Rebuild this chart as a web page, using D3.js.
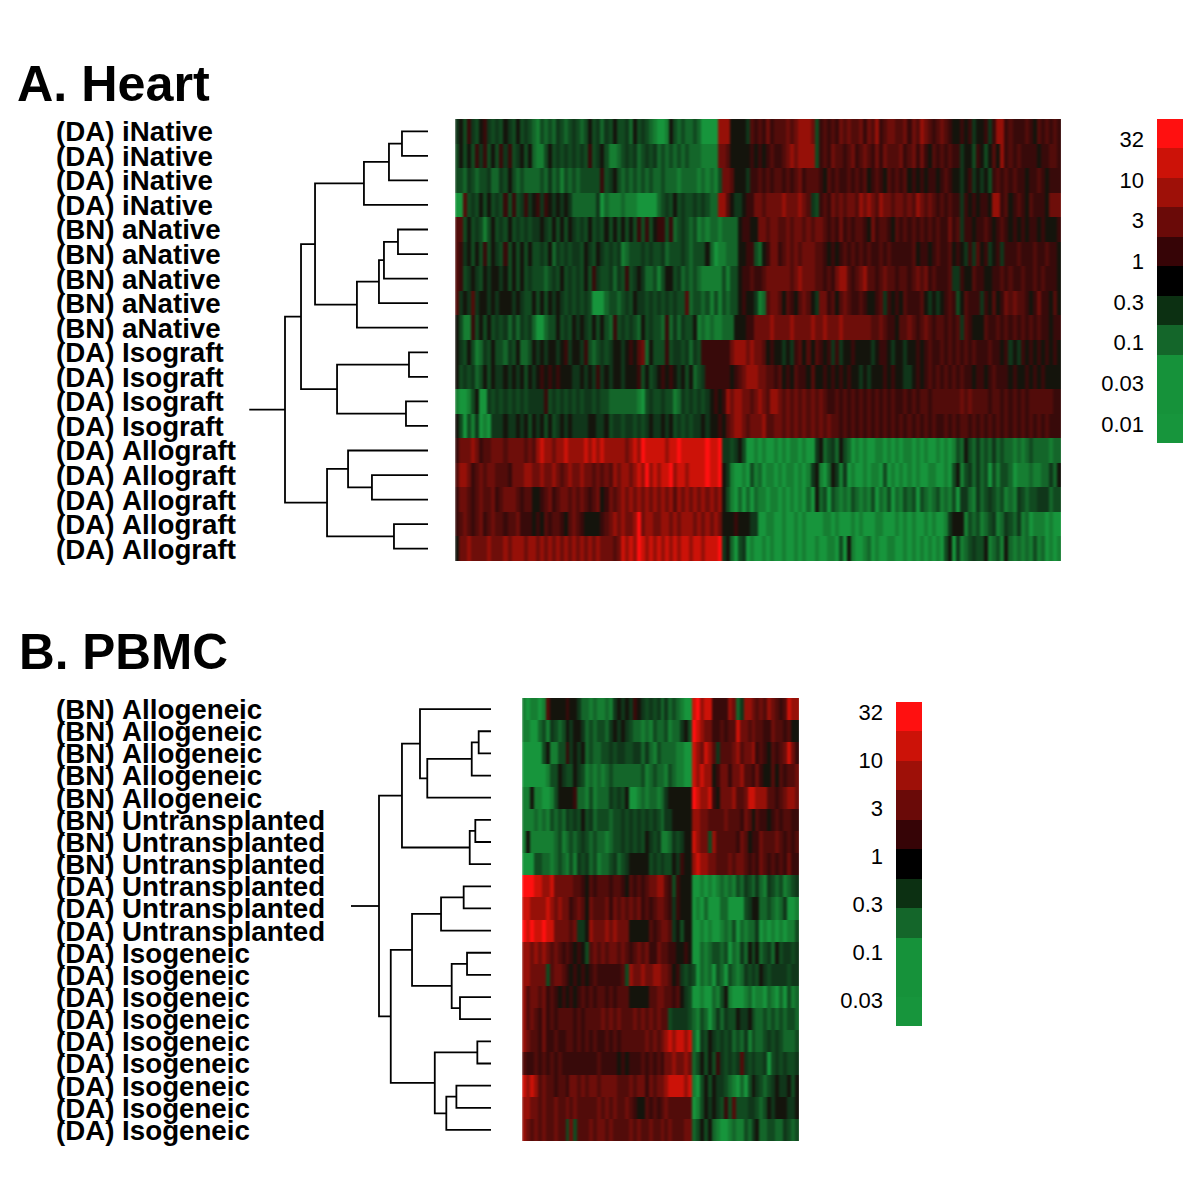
<!DOCTYPE html>
<html>
<head>
<meta charset="utf-8">
<script src="https://cdn.jsdelivr.net/npm/d3@7"></script>
<style>
html, body { margin: 0; background: #fff; }
text { font-family: "Liberation Sans", Arial, sans-serif; fill: #000; font-kerning: none; }
</style>
</head>
<body>
<div id="vis"></div>
<script>
// expression level codes, green (low) to red (high)
var levelCodes = ["0","1","2","3","4","5","6","7","8","9","a","b"];
var levelColors = ["#17953c","#167e32","#14662a","#114a20","#10361a","#14140c","#380a0a","#520c0a","#6e0e0a","#961008","#cc1208","#ff1010"];

var legendColors = ["#ff1010","#cc1208","#9e1008","#6a0a08","#360406","#000000","#0c3012","#14662a","#16923a","#16923a","#17953c"];
var heartTicks = ["32","10","3","1","0.3","0.1","0.03","0.01"];
var pbmcTicks = ["32","10","3","1","0.3","0.1","0.03"];

var heartLabels = ["(DA) iNative","(DA) iNative","(DA) iNative","(DA) iNative","(BN) aNative","(BN) aNative","(BN) aNative","(BN) aNative","(BN) aNative","(DA) Isograft","(DA) Isograft","(DA) Isograft","(DA) Isograft","(DA) Allograft","(DA) Allograft","(DA) Allograft","(DA) Allograft","(DA) Allograft"];
var pbmcLabels = ["(BN) Allogeneic","(BN) Allogeneic","(BN) Allogeneic","(BN) Allogeneic","(BN) Allogeneic","(BN) Untransplanted","(BN) Untransplanted","(BN) Untransplanted","(DA) Untransplanted","(DA) Untransplanted","(DA) Untransplanted","(DA) Isogeneic","(DA) Isogeneic","(DA) Isogeneic","(DA) Isogeneic","(DA) Isogeneic","(DA) Isogeneic","(DA) Isogeneic","(DA) Isogeneic","(DA) Isogeneic"];

// hclust style merges: negative = leaf row (1 based), positive = earlier merge
var heartMerge = [[-1,-2],[1,-3],[2,-4],[-5,-6],[4,-7],[5,-8],[6,-9],[3,7],[-10,-11],[-12,-13],[9,10],[8,11],[-15,-16],[-14,13],[-17,-18],[14,15],[12,16]];
var heartHeight = [18.2,27.3,44.8,21.0,30.8,34.3,49.7,79.0,13.3,15.4,63.6,88.8,39.2,55.9,23.8,70.6,100];
var pbmcMerge = [[-2,-3],[1,-4],[2,-5],[-1,3],[-6,-7],[5,-8],[4,6],[-9,-10],[8,-11],[-12,-13],[-14,-15],[10,11],[9,12],[-16,-17],[-18,-19],[15,-20],[14,16],[13,17],[7,18]];
var pbmcHeight = [11.0,17.2,56.9,63.4,14.0,19.0,79.5,24.4,44.6,21.4,27.7,35.1,70.5,12.2,30.9,39.9,50.2,89.5,100];

var heartRows = [
"4536435643 4354353432 1323243234 3235342435 3342534321 0015323223 2000099955 5547676867 7787899983 6767687877 8687967887 7868798767 8765565645 5646996766 6765767676",
"3535364635 3646345352 1135343434 3436345311 2343423434 2323232322 2111188755 5556565676 6789899993 6768776786 7876868777 8678686576 7676645536 5357596767 6666566776",
"3324323342 2435323222 2324231323 2333336345 3232323232 2322212222 1212138875 5546676767 7676786777 6576766767 6756765767 6756565665 6765545645 4536767676 6566765666",
"0073435353 4363634645 6465454542 2222240211 1211100000 2343534334 3432299754 4566887888 8988898743 6768787887 9898798878 8787987876 7676646565 6659967567 6576665888",
"7735343135 3435343434 4543535354 3435343535 3535363635 6636234323 1212212222 5665588788 7787887878 8767686767 7658677657 6767676767 6686746656 6765676565 6566565556",
"7645353635 4363535353 3435243434 4354354343 4123334343 3423334323 3352011222 5566325688 6787878887 7656567676 7676676766 6667566567 6675654647 5645646667 6667667665",
"7634543545 5453535343 3323435343 4353643342 4363454223 1355342323 2111113133 5667667888 8887898887 7676899767 8977678776 7767878676 6674465576 6556676766 7667676665",
"7454745545 4555454335 3535454343 4343000233 2343544343 4343433723 3231313233 5655412788 7576578754 8867578766 7655674656 5766675454 5676357666 4657568787 7656866575",
"5311635353 4342424342 0023353435 4543535326 3434325343 3262424335 1212112225 5566888898 8889888898 8988898888 8887787665 7787678767 7676747655 5766767676 7676766566",
"5435312435 3324352235 4545545645 5463234345 5456578253 3363443424 3666666689 9989887565 5454675757 6564645565 5554566545 5455656766 7676767676 6676656454 6565656565",
"5343423535 4454545354 5656565554 4545464545 5455563534 5656545352 3466666656 7899988776 7565766575 5656565655 4545556565 5445656767 6767676656 6567666565 5656565555",
"1001350043 4343434344 4463434343 4344343322 2222210343 3433124343 4345656989 9887898799 8787878787 8766767676 7676767676 6767677677 7777787877 7767767676 7677777766",
"5303140104 4454454535 4535345454 4445544534 4344343454 4545343434 4545565789 9878889778 8787878787 8787767676 7676767676 7676767676 6767677676 7676767676 7676767666",
"6888986778 8878888787 9a99899a99 99a9a9a999 9989a9baaa aa9aabaaaa aabaab4434 5300101001 0101101004 5234253201 0100110101 0110101001 0101325324 2324232212 1232222122",
"7998678788 7776888998 8988987898 8988787879 89989a9b9a 9aab9aa9aa aabaab5410 0103120110 1011010145 1025414010 0101103010 1010100110 0103513424 2303133201 1121122425",
"6887678778 6788876775 5678678878 7876785687 8989898989 8989798989 8989895310 2020211011 0101010205 2303212132 1213021302 1323032123 1213044214 2343231214 3233444233",
"6787678678 7767786665 6576776578 7655556789 89889b8998 8998989998 9898985556 5554400110 0100101000 0110100010 1000110001 0101001010 0145551323 1234124324 1201110100",
"5889888898 8898999899 8989898989 8989898887 8a9a9ba9a9 a9a9a9aa9a a9aaab4520 3401001010 0100101001 0011030510 0120100110 0101010101 0350412343 3512315212 1213120101"
];

var pbmcRows = [
"1011017555 5655422121 1214545465 4343424232 100ab9aa66 6698249987 8798767a99",
"1100231432 3545542323 3245454322 1213223122 453ba98866 7677a88787 7668776755",
"0000035113 3645452322 3343443344 2421322221 100a98a974 7778978896 7657678a86",
"0000001335 4335431212 1232222222 3123221321 100a9a9956 8868897768 6557576778",
"1151100135 5556221312 2243435001 2122124555 555ba99a65 8889778aa9 9977678998",
"1112121323 2434353423 3323343434 3434324455 5559988777 7877768757 6656767766",
"1511111123 1232343232 2123343434 3543411243 455a988397 7777687566 8777876767",
"0003322123 2131434231 2234234555 5534343354 6559a99887 7787887676 8767676866",
"bbbaa99a88 8887765767 7767765767 6788997636 5550010101 2121324324 2143231234",
"aa9999a989 8867875877 7868787878 6767887646 5550102000 2200003455 2232124001",
"babaabaa88 8878445988 8989888555 5576788745 3550010100 1213021224 0101010113",
"9989898787 6765653787 8788787678 7866877665 5650021233 2302142535 2342534434",
"9988883788 7656565676 6666673988 9889988756 4343021203 2032124343 5434444344",
"9788786765 6565676767 7676777555 5577887767 5430010021 3510001201 1021020312",
"9787686767 7776767777 8787877787 8787877344 4432132024 2433544532 2323232332",
"9877686676 6776767676 6767677777 7878789a9a a9a2043543 4342324132 2343432223",
"7667676767 6666666667 6666565666 7676768898 8982353536 4343474343 3403434334",
"a9a9787767 7688787887 8888777878 8687889aaa a9a1035354 4321020354 3234544535",
"9988787787 7878777778 7878778765 5767678777 7770135454 3637333443 2354555445",
"9878787787 7383777878 8787777878 7787787877 7882353521 0012113245 2233224323"
];

var svg = d3.select("#vis").append("svg")
    .attr("width", 1200)
    .attr("height", 1200)

var defs = svg.append("defs");

// the stripes in the reference run into each other a little
defs.append("filter")
    .attr("id", "soft")
    .attr("x", "0").attr("y", "0").attr("width", "1").attr("height", "1")
    .attr("color-interpolation-filters", "sRGB")
    .append("feGaussianBlur")
    .attr("stdDeviation", "0.9 0")
    .attr("edgeMode", "duplicate");

var color = d3.scaleOrdinal(levelCodes, levelColors);

function drawTitle(txt, x, y, size) {
    svg.append("text")
        .attr("x", x)
        .attr("y", y)
        .attr("font-size", size)
        .attr("font-weight", "bold")
        .text(txt);
}

function drawHeat(id, rows, labels, box, labelX) {
    var cells = rows.map(function(r){ return r.replace(/ /g, "").split(""); });
    var xs = d3.scaleBand().domain(d3.range(cells[0].length)).range([box.x0, box.x1]);
    var ys = d3.scaleBand().domain(d3.range(cells.length)).range([box.y0, box.y1]);

    defs.append("clipPath").attr("id", id)
        .append("rect")
        .attr("x", box.x0)
        .attr("y", box.y0)
        .attr("width", box.x1 - box.x0)
        .attr("height", box.y1 - box.y0);

    var g = svg.append("g")
        .attr("clip-path", "url(#" + id + ")")
        .append("g")
        .attr("shape-rendering", "crispEdges")
        .attr("filter", "url(#soft)");
    g.selectAll(".row").data(cells).enter()
        .append("g")
        .attr("transform", function(d, i){ return "translate(0," + ys(i) + ")"; })
        .selectAll("rect").data(function(d){ return d; }).enter()
        .append("rect")
        .attr("x", function(d, i){ return xs(i); })
        .attr("width", xs.bandwidth() + 0.5)
        .attr("height", ys.bandwidth() + 0.5)
        .attr("fill", function(d){ return color(d); });

    svg.selectAll(null).data(labels).enter()
        .append("text")
        .attr("x", labelX)
        .attr("y", function(d, i){ return ys(i) + ys.bandwidth() / 2; })
        .attr("dy", "0.36em")
        .attr("font-size", box.labelSize)
        .attr("font-weight", "bold")
        .text(function(d){ return d; });

    return ys;
}

function drawTree(merge, heights, ys, x0, x1) {
    // root height is 100, the stem sticks out a quarter more
    var hx = d3.scaleLinear().domain([0, 100]).range([x1, x0]);
    var g = svg.append("g").attr("fill", "none").attr("stroke", "#000").attr("stroke-width", 1.8);
    var nodes = [];
    function pos(id) {
        if (id < 0) return {x: hx(0), y: ys(-id - 1) + ys.bandwidth() / 2};
        return nodes[id - 1];
    }
    merge.forEach(function(m, i){
        var a = pos(m[0]), b = pos(m[1]), x = hx(heights[i]);
        var p = d3.path();
        p.moveTo(a.x, a.y);
        p.lineTo(x, a.y);
        p.lineTo(x, b.y);
        p.lineTo(b.x, b.y);
        g.append("path").attr("d", p.toString());
        nodes.push({x: x, y: (a.y + b.y) / 2});
    });
    var root = nodes[nodes.length - 1];
    g.append("line")
        .attr("x1", root.x)
        .attr("x2", hx(125))
        .attr("y1", root.y)
        .attr("y2", root.y);
}

function drawLegend(ticks, box) {
    var ys = d3.scaleBand().domain(d3.range(legendColors.length)).range([box.y0, box.y1]);
    svg.append("g").attr("shape-rendering", "crispEdges")
        .selectAll("rect").data(legendColors).enter()
        .append("rect")
        .attr("x", box.x)
        .attr("y", function(d, i){ return ys(i); })
        .attr("width", box.w)
        .attr("height", function(d, i){ return i == legendColors.length - 1 ? ys.bandwidth() : ys.bandwidth() + 0.5; })
        .attr("fill", function(d){ return d; });

    var ty = d3.scalePoint().domain(ticks).range([box.t0, box.t1]);
    svg.selectAll(null).data(ticks).enter()
        .append("text")
        .attr("x", box.tx)
        .attr("y", function(d){ return ty(d); })
        .attr("dy", "0.36em")
        .attr("text-anchor", "end")
        .attr("font-size", 22)
        .text(function(d){ return d; });
}

drawTitle("A. Heart", 17, 101, 50.3);
var heartY = drawHeat("clipA", heartRows, heartLabels, {x0: 455, x1: 1061, y0: 119, y1: 561, labelSize: 27.7}, 56);
drawTree(heartMerge, heartHeight, heartY, 285, 428);
drawLegend(heartTicks, {x: 1157, w: 26, y0: 119, y1: 443, t0: 139, t1: 424, tx: 1144});

drawTitle("B. PBMC", 19, 669, 49.5);
var pbmcY = drawHeat("clipB", pbmcRows, pbmcLabels, {x0: 522, x1: 799, y0: 698, y1: 1141, labelSize: 27.7}, 56);
drawTree(pbmcMerge, pbmcHeight, pbmcY, 379, 491);
drawLegend(pbmcTicks, {x: 896, w: 26, y0: 702, y1: 1026, t0: 712, t1: 1000, tx: 883});
</script>
</body>
</html>
